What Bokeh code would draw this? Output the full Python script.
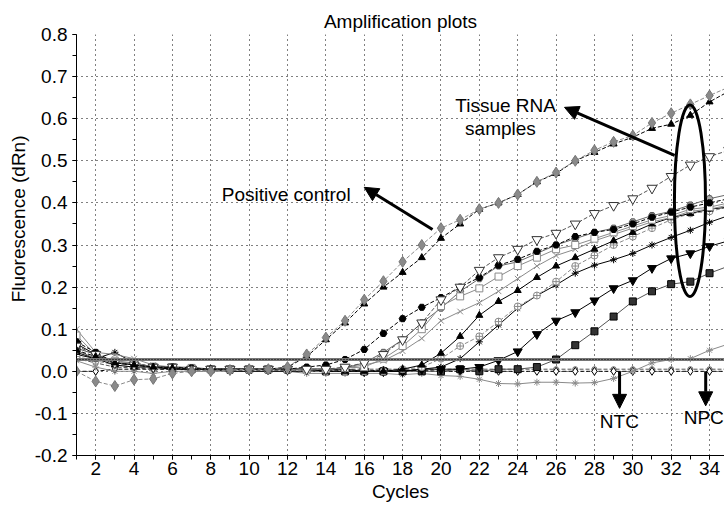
from bokeh.plotting import figure
from bokeh.models import (Range1d, FixedTicker, PrintfTickFormatter, Span, Arrow,
                          NormalHead, Label, Title)
from bokeh.embed import file_html
from bokeh.resources import INLINE

# ---------------- data ----------------
cycles = list(range(1, 36))

pc_diamond = [0.000, -0.024, -0.035, -0.020, -0.018, -0.005, 0.000, 0.000, 0.003, 0.005, 0.005, 0.010,
              0.040, 0.080, 0.120, 0.170, 0.214, 0.260, 0.300, 0.340, 0.360, 0.385, 0.400, 0.420,
              0.450, 0.472, 0.500, 0.525, 0.545, 0.560, 0.590, 0.613, 0.634, 0.655, 0.675]
pc_triangle = [0.050, 0.035, 0.020, 0.015, 0.010, 0.008, 0.005, 0.005, 0.005, 0.005, 0.005, 0.010,
               0.035, 0.075, 0.115, 0.160, 0.200, 0.235, 0.270, 0.316, 0.350, 0.385, 0.400, 0.420,
               0.450, 0.470, 0.500, 0.520, 0.540, 0.556, 0.577, 0.587, 0.608, 0.640, 0.665]
tri_open = [0.060, 0.040, 0.020, 0.015, 0.010, 0.010, 0.005, 0.005, 0.005, 0.005, 0.005, 0.005,
            0.005, 0.005, 0.010, 0.020, 0.040, 0.075, 0.115, 0.170, 0.200, 0.240, 0.270, 0.290,
            0.313, 0.328, 0.350, 0.375, 0.394, 0.410, 0.435, 0.463, 0.490, 0.510, 0.525]
circle_black = [0.070, 0.045, 0.020, 0.015, 0.010, 0.010, 0.008, 0.005, 0.005, 0.005, 0.005, 0.005,
                0.010, 0.015, 0.028, 0.052, 0.090, 0.125, 0.152, 0.175, 0.200, 0.223, 0.252, 0.266,
                0.285, 0.300, 0.320, 0.330, 0.337, 0.350, 0.366, 0.378, 0.390, 0.400, 0.410]
square_open = [0.085, 0.040, 0.025, 0.020, 0.010, 0.010, 0.008, 0.005, 0.005, 0.005, 0.005, 0.005,
               0.005, 0.005, 0.008, 0.010, 0.030, 0.060, 0.100, 0.155, 0.178, 0.197, 0.225, 0.250,
               0.270, 0.290, 0.300, 0.315, 0.330, 0.345, 0.360, 0.370, 0.385, 0.390, 0.400]
hex_gray = [0.050, 0.030, 0.020, 0.015, 0.012, 0.010, 0.008, 0.005, 0.005, 0.005, 0.005, 0.005,
            0.005, 0.005, 0.008, 0.020, 0.045, 0.075, 0.115, 0.150, 0.190, 0.220, 0.250, 0.260,
            0.280, 0.300, 0.315, 0.330, 0.340, 0.355, 0.370, 0.380, 0.395, 0.410, 0.420]
x_gray = [0.100, 0.045, 0.040, 0.030, 0.015, 0.010, 0.010, 0.005, 0.005, 0.005, 0.005, 0.005,
          0.005, 0.005, 0.008, 0.015, 0.025, 0.048, 0.078, 0.120, 0.142, 0.163, 0.190, 0.220,
          0.250, 0.275, 0.290, 0.310, 0.325, 0.340, 0.355, 0.365, 0.380, 0.385, 0.395]
tri_black = [0.045, 0.030, 0.015, 0.010, 0.010, 0.005, 0.005, 0.005, 0.005, 0.005, 0.005, 0.005,
             0.005, 0.000, 0.000, 0.000, 0.000, 0.005, 0.015, 0.043, 0.083, 0.133, 0.166, 0.192,
             0.223, 0.250, 0.270, 0.290, 0.310, 0.330, 0.350, 0.365, 0.375, 0.385, 0.390]
circle_cross = [0.035, 0.025, 0.015, 0.010, 0.010, 0.005, 0.005, 0.005, 0.005, 0.005, 0.005, 0.005,
                0.000, 0.000, 0.000, 0.000, 0.000, 0.005, 0.010, 0.030, 0.060, 0.083, 0.118, 0.154,
                0.180, 0.213, 0.250, 0.275, 0.300, 0.320, 0.340, 0.360, 0.375, 0.380, 0.390]
asterisk_black = [0.040, 0.030, 0.045, 0.020, 0.010, 0.005, 0.005, 0.005, 0.000, 0.000, 0.000, 0.000,
                  0.000, 0.000, 0.000, 0.000, 0.000, 0.000, 0.005, 0.010, 0.030, 0.070, 0.110, 0.150,
                  0.180, 0.205, 0.233, 0.252, 0.265, 0.280, 0.300, 0.318, 0.335, 0.354, 0.370]
tri_down = [0.065, 0.040, 0.020, 0.015, 0.010, 0.005, 0.005, 0.005, 0.005, 0.005, 0.005, 0.005,
            0.005, 0.005, 0.005, 0.000, 0.000, 0.000, 0.005, 0.005, 0.005, 0.010, 0.026, 0.047,
            0.088, 0.120, 0.140, 0.168, 0.197, 0.216, 0.245, 0.268, 0.280, 0.297, 0.310]
square_black = [0.055, 0.040, 0.020, 0.020, 0.010, 0.010, 0.005, 0.005, 0.005, 0.005, 0.005, 0.005,
                0.005, 0.000, 0.000, 0.000, 0.000, 0.000, 0.000, 0.000, 0.005, 0.000, 0.005, 0.005,
                0.010, 0.028, 0.062, 0.095, 0.130, 0.166, 0.190, 0.207, 0.213, 0.233, 0.250]
ntc = [0.000, 0.000, 0.005, 0.005, 0.005, 0.005, 0.003, 0.003, 0.003, 0.003, 0.003, 0.003,
       0.003, 0.003, 0.002, 0.002, 0.002, 0.002, 0.002, 0.000, 0.000, 0.000, 0.000, 0.000,
       0.000, 0.000, 0.000, 0.000, 0.000, 0.000, 0.000, 0.000, 0.000, 0.000, 0.000]
asterisk_gray = [0.025, 0.010, 0.000, 0.000, -0.005, 0.000, 0.000, 0.000, 0.000, 0.000, 0.000, 0.000,
                 -0.005, -0.005, -0.005, -0.005, -0.005, -0.008, -0.005, -0.010, -0.012, -0.019, -0.029, -0.030,
                 -0.026, -0.026, -0.028, -0.027, -0.017, 0.000, 0.020, 0.028, 0.030, 0.050, 0.065]
npc = [0.030, 0.020, 0.010, 0.008, 0.005, 0.005, 0.005, 0.005, 0.005, 0.005, 0.005, 0.005,
       0.005, 0.005, 0.005, 0.005, 0.005, 0.005, 0.005, 0.005, 0.005, 0.005, 0.005, 0.005,
       0.005, 0.005, 0.005, 0.005, 0.005, 0.005, 0.005, 0.005, 0.005, 0.005, 0.005]

threshold = 0.028

x_ticks = [2, 4, 6, 8, 10, 12, 14, 16, 18, 20, 22, 24, 26, 28, 30, 32, 34]
y_ticks = [-0.2, -0.1, 0.0, 0.1, 0.2, 0.3, 0.4, 0.5, 0.6, 0.7, 0.8]
y_minor = [-0.2, -0.15, -0.1, -0.05, 0.0, 0.05, 0.1, 0.15, 0.2, 0.25, 0.3, 0.35,
           0.4, 0.45, 0.5, 0.55, 0.6, 0.65, 0.7, 0.75, 0.8]

# ---------------- styles ----------------
GRAY = "#8a8a8a"
series = [
    # values, marker, marker line, marker fill, line colour, dash, size
    (npc, "circle", "#666666", None, "#555555", "4 2", 5),
    (ntc, "diamond", "black", "white", "black", "4 2", 8),
    (asterisk_gray, "asterisk", GRAY, None, GRAY, "solid", 7),
    (square_black, "square", "black", "#333333", "#555555", "solid", 7),
    (tri_down, "inverted_triangle", "black", "black", "black", "solid", 9),
    (asterisk_black, "asterisk", "black", None, "black", "solid", 7),
    (circle_cross, "circle_cross", GRAY, "white", GRAY, "4 2", 7),
    (tri_black, "triangle", "black", "black", "black", "solid", 7),
    (x_gray, "x", GRAY, None, GRAY, "solid", 8),
    (hex_gray, "hex", "#555555", "#aaaaaa", "#666666", "solid", 7),
    (square_open, "square", GRAY, "white", GRAY, "solid", 7),
    (circle_black, "hex", "black", "black", "black", "4 2", 7),
    (tri_open, "inverted_triangle", "#333333", "white", "#555555", "4 2", 10),
    (pc_triangle, "triangle", "black", "black", "black", "4 2", 7),
    (pc_diamond, "diamond", "#777777", GRAY, GRAY, "4 2", 11),
]

FONT = "Liberation Sans"
FS = "19px"

p = figure(width=724, height=507, output_backend="svg", toolbar_location=None,
           x_range=Range1d(1, 34.78), y_range=Range1d(-0.2, 0.8),
           min_border_left=76, min_border_right=0, min_border_top=34, min_border_bottom=52,
           title="Amplification plots")
p.outline_line_color = None
p.background_fill_color = "white"
p.border_fill_color = "white"

p.title.align = "center"
p.title.text_font = FONT
p.title.text_font_size = FS
p.title.text_font_style = "normal"
p.title.text_color = "black"
p.title.standoff = 5

# grids
p.xgrid.ticker = FixedTicker(ticks=x_ticks)
p.ygrid.ticker = FixedTicker(ticks=y_ticks)
for g in (p.xgrid, p.ygrid):
    g.grid_line_color = "black"
    g.grid_line_dash = "1 4"
    g.grid_line_width = 1

# axes
p.xaxis.ticker = FixedTicker(ticks=x_ticks, minor_ticks=cycles)
p.yaxis.ticker = FixedTicker(ticks=y_ticks, minor_ticks=y_minor)
p.yaxis.formatter = PrintfTickFormatter(format="%.1f")
for ax in (p.xaxis, p.yaxis):
    ax.axis_line_color = "black"
    ax.major_tick_line_color = "black"
    ax.minor_tick_line_color = "black"
    ax.major_tick_in = 0
    ax.major_tick_out = 4
    ax.minor_tick_in = 0
    ax.minor_tick_out = 4
    ax.major_label_text_font = FONT
    ax.major_label_text_font_size = FS
    ax.major_label_text_color = "black"
p.yaxis.major_label_standoff = 5
p.xaxis.major_label_standoff = 2
p.xaxis.axis_label = "Cycles"
p.xaxis.axis_label_text_font = FONT
p.xaxis.axis_label_text_font_size = FS
p.xaxis.axis_label_text_font_style = "normal"
p.xaxis.axis_label_text_color = "black"
p.xaxis.axis_label_standoff = 3

# y axis title, shifted up as in the reference
p.add_layout(Title(text="Fluorescence (dRn)", align="right", offset=101, standoff=6,
                   text_font=FONT, text_font_size=FS, text_font_style="normal",
                   text_color="black"), "left")

# threshold line
p.add_layout(Span(location=threshold, dimension="width", line_color="#777777", line_width=3))
p.add_layout(Span(location=threshold, dimension="width", line_color="black", line_width=1,
                  line_dash="1 2"))

# curves
for vals, marker, mline, mfill, lcol, dash, size in series:
    p.line(cycles, vals, line_color=lcol, line_width=1, line_dash=dash)
    p.scatter(cycles, vals, marker=marker, size=size, line_color=mline,
              fill_color=mfill, line_width=1)

# annotations
p.ellipse(x=[32.98], y=[0.405], width=1.62, height=0.455, fill_color=None,
          line_color="black", line_width=3)

arrows = [
    (19.56, 0.337, 16.0, 0.437),
    (32.18, 0.513, 26.44, 0.627),
    (29.31, 0.0, 29.31, -0.088),
    (33.8, 0.0, 33.8, -0.082),
]
for xs, ys, xe, ye in arrows:
    p.add_layout(Arrow(end=NormalHead(size=14, fill_color="black", line_color="black"),
                       x_start=xs, y_start=ys, x_end=xe, y_end=ye,
                       line_color="black", line_width=3))

labels = [
    ("Positive control", 15.29, 0.42, "right"),
    ("Tissue RNA", 23.37, 0.632, "center"),
    ("samples", 23.1, 0.577, "center"),
    ("NTC", 29.3, -0.12, "center"),
    ("NPC", 33.7, -0.11, "center"),
]
for t, lx, ly, al in labels:
    p.add_layout(Label(x=lx, y=ly, text=t, text_font=FONT, text_font_size=FS,
                       text_align=al, text_baseline="middle", text_color="black"))

open("out.html", "w").write(file_html(p, INLINE))
